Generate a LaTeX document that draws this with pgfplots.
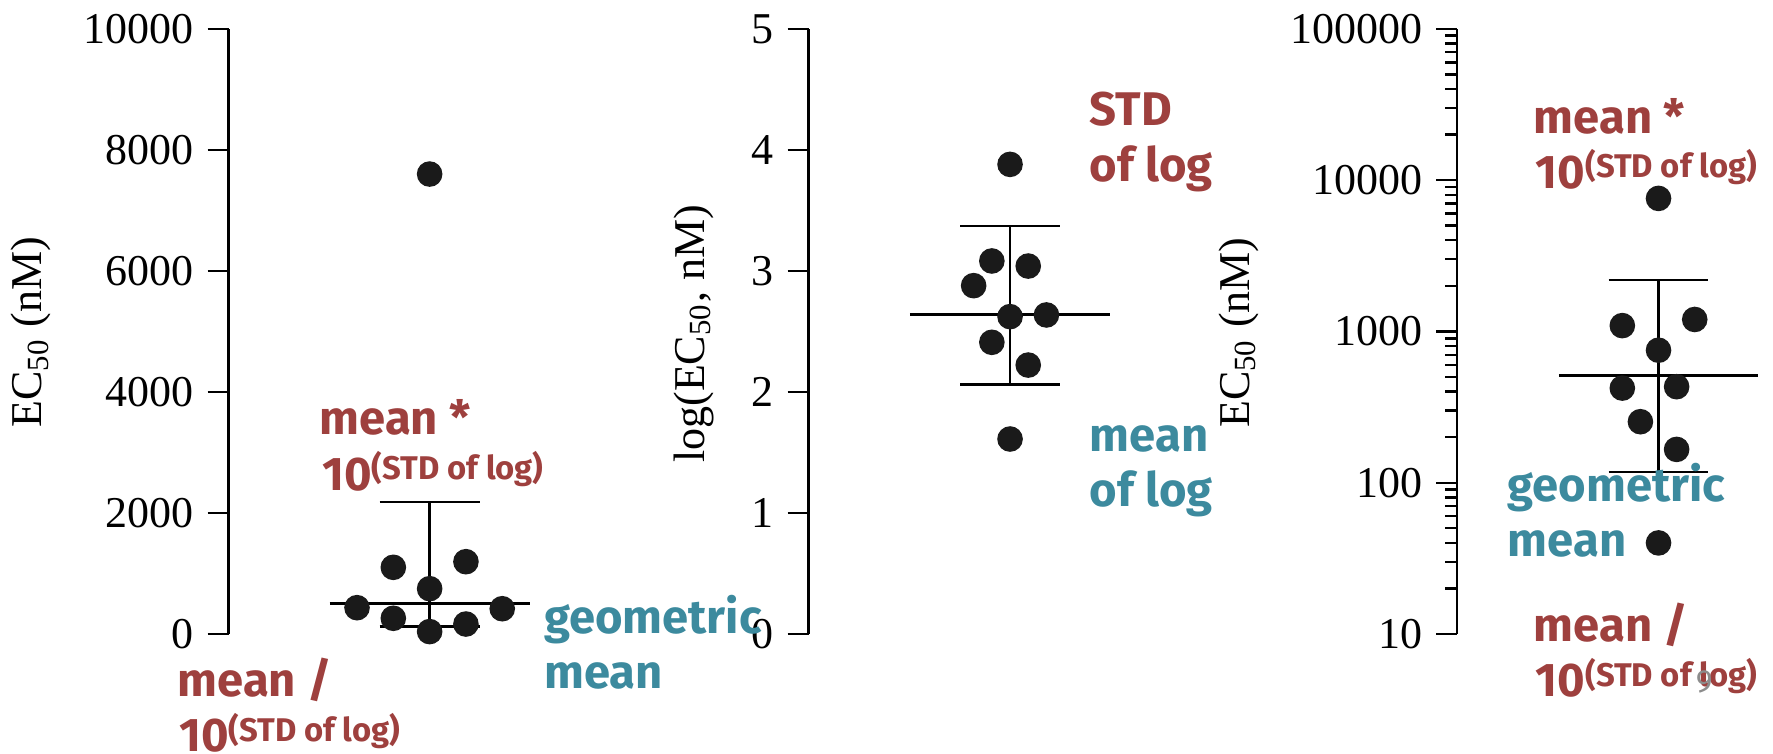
\documentclass[border=0pt]{standalone}
\usepackage{fontspec}
\setmainfont{Liberation Serif}
\newfontfamily\notefont{Fira Sans}
\usepackage{pgfplots}
\pgfplotsset{compat=1.18}

\definecolor{noteRed}{RGB}{158,64,62}
\definecolor{noteTeal}{RGB}{60,138,158}
\definecolor{dotBlack}{RGB}{26,26,26}

% annotation text: bold humanist sans
\newcommand{\notestyle}{\notefont\bfseries\fontsize{11.8}{14}\selectfont}
\newcommand{\tenpow}{10{\fontsize{8.2}{9}\selectfont\raisebox{2.6pt}{(STD of log)}}}

\pgfplotsset{
  dotpanel/.style={
    scale only axis, height=151.3pt, clip=false,
    anchor=south west,
    axis y line=left, axis x line=none,
    axis line style={-, line width=0.6pt, black},
    tick align=outside,
    major tick length=5.25pt, minor tick length=3pt,
    every tick/.style={black, line width=0.6pt},
    scaled y ticks=false,
    yticklabel style={font=\fontsize{11}{13}\selectfont},
  },
  dots/.style={only marks, mark=*, mark size=3pt, color=dotBlack},
  summary/.style={black, line width=0.6pt},
}

\begin{document}
\begin{tikzpicture}
\path[use as bounding box] (0,0) rectangle (443.25pt,188.25pt);

% ---- raw EC50 values, linear axis ----
\begin{axis}[dotpanel, at={(57.125pt,29.75pt)}, width=82.04pt,
  xmin=-5.54, xmax=3.5, ymin=0, ymax=10000,
  ytick={0,2000,4000,6000,8000,10000},
  yticklabels={0,2000,4000,6000,8000,10000}]
  \addplot[summary] coordinates {(-2.755,507) (2.755,507)};
  \addplot[summary] coordinates {(-1.377,2186) (1.377,2186)};
  \addplot[summary] coordinates {(-1.377,121) (1.377,121)};
  \addplot[summary] coordinates {(0,121) (0,2186)};
  \addplot[dots] coordinates {(0,7600) (-1,1102) (1,1195) (0,749) (-2,435)
                              (2,418) (-1,260) (1,165) (0,40)};
\end{axis}

% ---- log-transformed values ----
\begin{axis}[dotpanel, at={(202.15pt,29.75pt)}, width=82.2pt,
  xmin=-11.07, xmax=7, ymin=0, ymax=5,
  ytick={0,1,2,3,4,5}, yticklabels={0,1,2,3,4,5}]
  \addplot[summary] coordinates {(-5.5,2.641) (5.5,2.641)};
  \addplot[summary] coordinates {(-2.75,3.373) (2.75,3.373)};
  \addplot[summary] coordinates {(-2.75,2.063) (2.75,2.063)};
  \addplot[summary] coordinates {(0,2.063) (0,3.373)};
  \addplot[dots] coordinates {(0,3.880) (-1,3.082) (1,3.040) (-2,2.878) (0,2.622)
                              (2,2.636) (-1,2.410) (1,2.222) (0,1.611)};
\end{axis}

% ---- raw EC50 values, logarithmic axis ----
\begin{axis}[dotpanel, at={(364.3pt,29.75pt)}, width=82.0pt, ymode=log,
  xmin=-11.12, xmax=7, ymin=10, ymax=100000,
  ytick={10,100,1000,10000,100000},
  yticklabels={10,100,1000,10000,100000},
  minor ytick={20,30,40,50,60,70,80,90,200,300,400,500,600,700,800,900,
               2000,3000,4000,5000,6000,7000,8000,9000,
               20000,30000,40000,50000,60000,70000,80000,90000}]
  \addplot[summary] coordinates {(-5.5,511) (5.5,511)};
  \addplot[summary] coordinates {(-2.75,2188) (2.75,2188)};
  \addplot[summary] coordinates {(-2.75,118) (2.75,118)};
  \addplot[summary] coordinates {(0,118) (0,2188)};
  \addplot[dots] coordinates {(0,7568) (-2,1092) (2,1199) (0,751) (-2,422)
                              (1,431) (-1,253) (1,166) (0,40)};
\end{axis}

% axis titles
\node[rotate=90, font=\fontsize{11}{13}\selectfont] at (7.85pt,105.25pt) {EC\textsubscript{50} (nM)};
\node[rotate=90, font=\fontsize{11}{13}\selectfont] at (173.45pt,104.75pt) {log(EC\textsubscript{50}, nM)};
\node[rotate=90, font=\fontsize{11}{13}\selectfont] at (309.65pt,105.1pt) {EC\textsubscript{50} (nM)};

% annotations
\begin{scope}[every node/.style={anchor=base west, inner sep=0pt, font=\notestyle}]
  \node[text=noteRed]  at (79.7pt,79.6pt)   {mean *};
  \node[text=noteRed]  at (80.4pt,65.75pt)  {\tenpow};
  \node[text=noteRed]  at (44.2pt,14.1pt)   {mean /};
  \node[text=noteRed]  at (44.6pt,0.3pt)    {\tenpow};
  \node[text=noteTeal] at (135.85pt,30pt)   {geometric};
  \node[text=noteTeal] at (135.85pt,16.25pt){mean};

  \node[text=noteRed]  at (272.25pt,156.8pt){STD};
  \node[text=noteRed]  at (272.25pt,142.9pt){of log};
  \node[text=noteTeal] at (272.25pt,75.4pt) {mean};
  \node[text=noteTeal] at (272.25pt,61.6pt) {of log};

  \node[text=noteRed]  at (383.25pt,155pt)  {mean *};
  \node[text=noteRed]  at (383.75pt,141.25pt){\tenpow};
  \node[text=noteTeal] at (376.75pt,62.8pt) {geometric};
  \node[text=noteTeal] at (376.75pt,49.1pt) {mean};
  \node[text=noteRed]  at (383.25pt,27.8pt) {mean /};
  \node[text=noteRed]  at (383.75pt,14.1pt) {\tenpow};
\end{scope}
\node[anchor=base west, inner sep=0pt, text=gray!90, font=\notefont\fontsize{8}{9}\selectfont] at (423.75pt,15.25pt) {9};
\end{tikzpicture}
\end{document}
